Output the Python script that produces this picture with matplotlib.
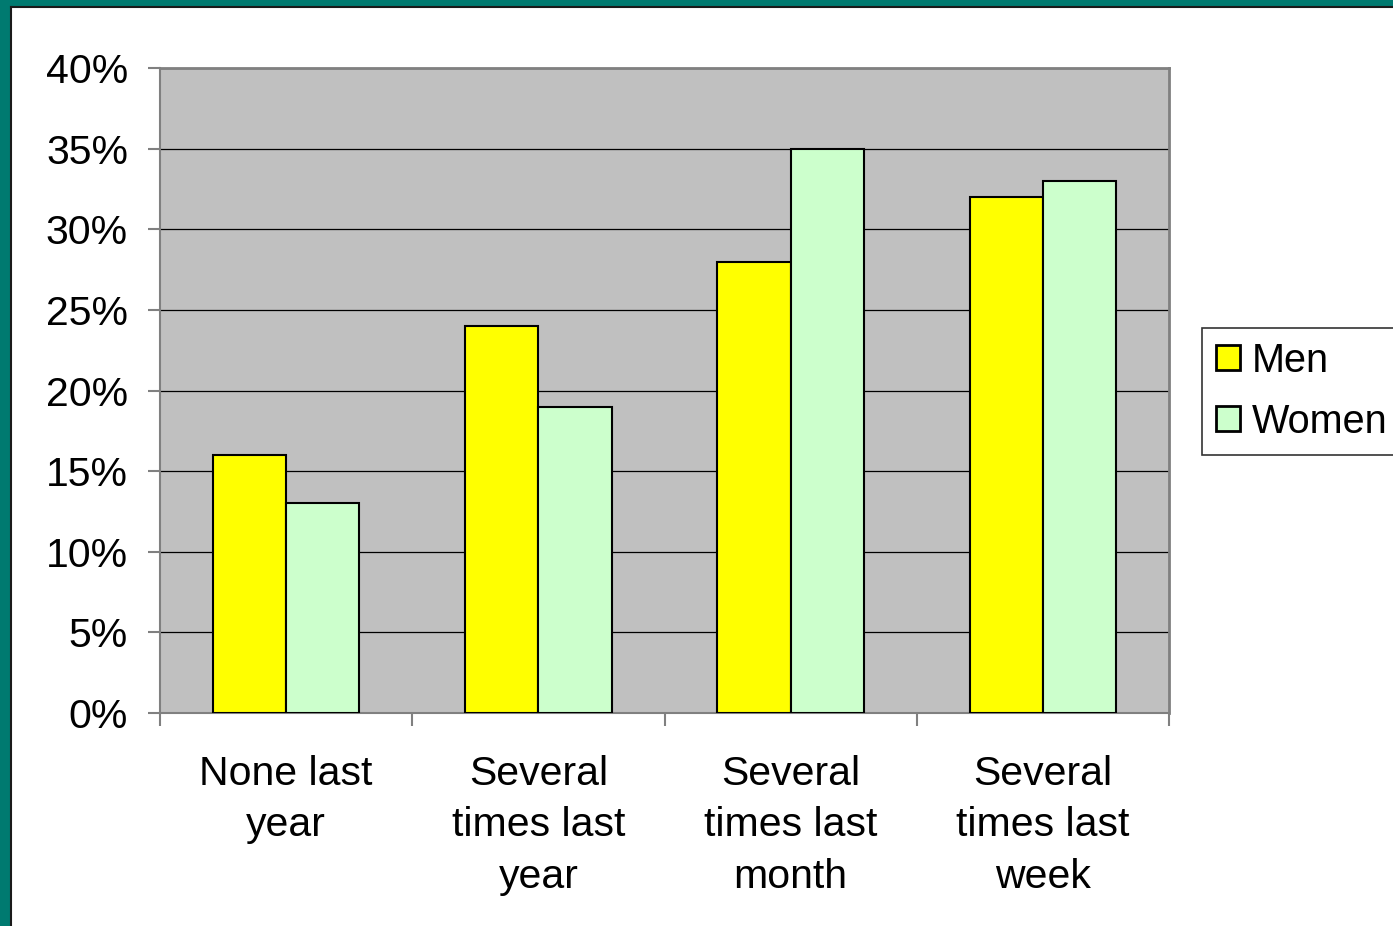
import matplotlib.pyplot as plt
from matplotlib.patches import Rectangle
import numpy as np

categories = ["None last\nyear", "Several\ntimes last\nyear", "Several\ntimes last\nmonth", "Several\ntimes last\nweek"]
men = [16, 24, 28, 32]
women = [13, 19, 35, 33]
yticks = [0, 5, 10, 15, 20, 25, 30, 35, 40]

plt.rcParams["font.family"] = ["Liberation Sans", "DejaVu Sans"]

W, H = 1393, 926
fig = plt.figure(figsize=(W / 100, H / 100), dpi=100)
fig.patch.set_facecolor("white")

# teal slide frame along the top and left edge
fig.patches.append(Rectangle((0, 0), 10 / W, 1, transform=fig.transFigure, color="#007A70", zorder=0))
fig.patches.append(Rectangle((0, 1 - 6 / H), 1, 6 / H, transform=fig.transFigure, color="#007A70", zorder=0))
fig.lines.append(plt.Line2D([10.5 / W, 10.5 / W], [0, 1 - 6.5 / H], transform=fig.transFigure, color="#1a1a1a", lw=1.5))
fig.lines.append(plt.Line2D([10.5 / W, 1], [1 - 6.5 / H, 1 - 6.5 / H], transform=fig.transFigure, color="#1a1a1a", lw=1.5))

ax = fig.add_axes([160 / W, 1 - 713 / H, (1169 - 160) / W, (713 - 68) / H])
ax.set_facecolor("#C0C0C0")

x = np.arange(len(categories))
bw = 0.29
ax.bar(x - bw / 2, men, bw, color="#FFFF00", edgecolor="black", linewidth=1.5, label="Men", zorder=3)
ax.bar(x + bw / 2, women, bw, color="#CCFFCC", edgecolor="black", linewidth=1.5, label="Women", zorder=3)

ax.set_ylim(0, 40)
ax.set_xlim(-0.5, len(categories) - 0.5)
ax.set_yticks(yticks)
ax.set_yticklabels([f"{v}%" for v in yticks], fontsize=29.5)
ax.yaxis.grid(True, color="black", linewidth=0.9, zorder=1)
ax.set_axisbelow(True)

ax.set_xticks(np.arange(len(categories) + 1) - 0.5)
ax.set_xticklabels([])
ax.set_xticks(x, minor=True)
ax.set_xticklabels(categories, minor=True, fontsize=29.5, linespacing=1.45)
ax.tick_params(axis="x", which="minor", length=0, pad=30)
ax.tick_params(axis="x", which="major", length=9, color="#808080", width=1.5, direction="out")
ax.tick_params(axis="y", length=9, color="#808080", width=1.5, pad=14)

for side in ["top", "right"]:
    ax.spines[side].set_color("#808080")
    ax.spines[side].set_linewidth(2)
for side in ["left", "bottom"]:
    ax.spines[side].set_color("#808080")
    ax.spines[side].set_linewidth(1.5)

leg = fig.legend(loc="upper left", bbox_to_anchor=(1202 / W, 1 - 328 / H), fontsize=28.5,
                 frameon=True, fancybox=False, edgecolor="black", handlelength=0.6,
                 handleheight=0.6, handletextpad=0.3, borderpad=0.35, labelspacing=0.58,
                 borderaxespad=0)
leg.get_frame().set_linewidth(1.2)
for h in leg.legend_handles:
    h.set_linewidth(2)

fig.savefig("out.png", dpi=100)
